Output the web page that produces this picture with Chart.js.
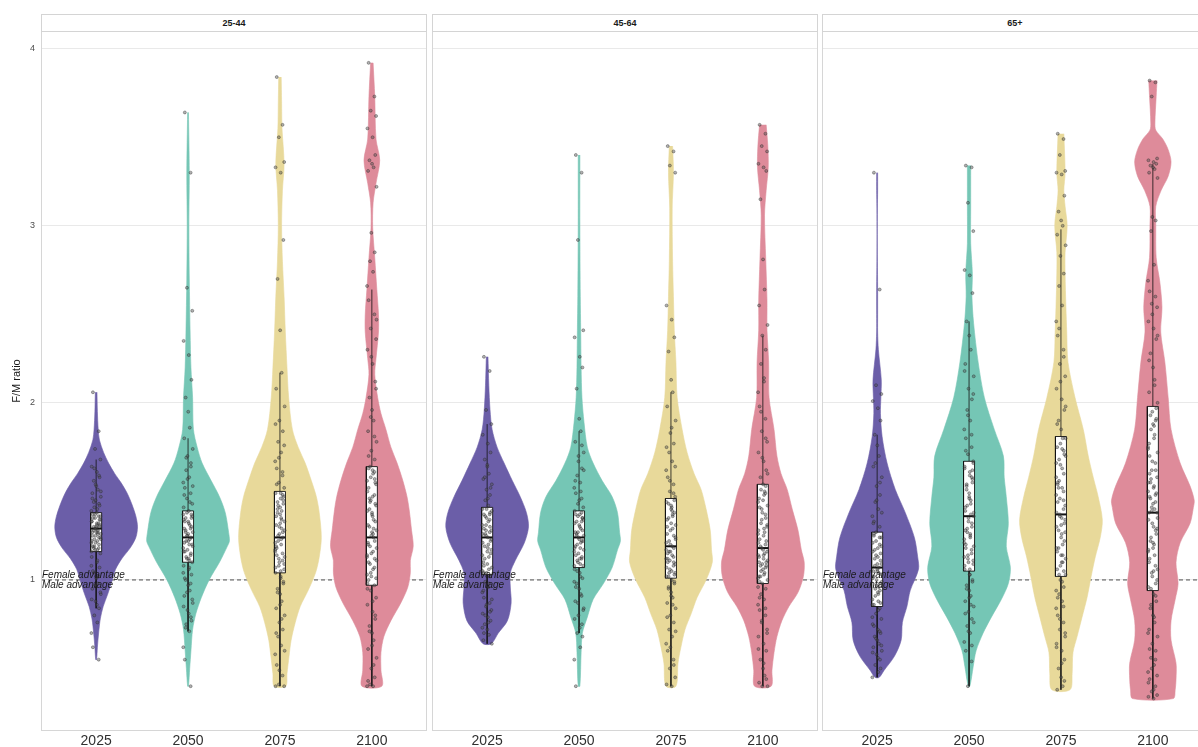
<!DOCTYPE html>
<html>
<head>
<meta charset="utf-8">
<title>F/M ratio by age group</title>
<script src="https://cdn.jsdelivr.net/npm/chart.js@4.4.1/dist/chart.umd.min.js"></script>
<style>
  html, body { margin: 0; padding: 0; background: #fff; }
  body { width: 1198px; height: 747px; overflow: hidden; position: relative;
         font-family: "Liberation Sans", Arial, Helvetica, sans-serif; }
  canvas { position: absolute; top: 0; }
  .strip { position: absolute; top: 14px; height: 18px; box-sizing: border-box;
           border: 1px solid #d4d4d4; background: #fff; color: #1a1a1a;
           font-weight: bold; font-size: 9px; line-height: 16px; text-align: center; }
  .note { position: absolute; font-style: italic; font-size: 10px; line-height: 10px;
          color: #1a1a1a; white-space: nowrap; pointer-events: none; }
</style>
</head>
<body>
<canvas id="p0" width="427" height="747" style="left:0px"></canvas>
<canvas id="p1" width="386" height="747" style="left:432px"></canvas>
<canvas id="p2" width="386" height="747" style="left:822px"></canvas>
<script>
// ---- categories and ticks ----
const YEARS = ['2025', '2050', '2075', '2100'];
const AGE_GROUPS = ['25-44', '45-64', '65+'];
const Y_TICKS = [1, 2, 3, 4];

// ---- violin outlines: F/M ratio levels and relative density (1 = widest) ----
// 25-44
const LV_2544_2025 = [2.06,1.95,1.85,1.79,1.72,1.66,1.60,1.55,1.49,1.43,1.36,1.30,1.24,1.18,1.12,1.06,1.00,0.92,0.85,0.78,0.70,0.62,0.55];
const DW_2544_2025 = [0.02,0.03,0.05,0.08,0.18,0.30,0.45,0.60,0.75,0.86,0.96,1.00,0.96,0.82,0.62,0.47,0.39,0.28,0.17,0.10,0.06,0.03,0.01];
const LV_2544_2050 = [3.64,3.30,3.00,2.70,2.40,2.20,2.03,1.85,1.75,1.66,1.56,1.47,1.38,1.27,1.22,1.19,1.10,1.00,0.90,0.81,0.72,0.60,0.50,0.40];
const DW_2544_2050 = [0.01,0.03,0.02,0.03,0.05,0.07,0.11,0.13,0.22,0.34,0.56,0.76,0.90,0.98,1.00,0.95,0.76,0.51,0.32,0.19,0.11,0.07,0.04,0.01];
const LV_2544_2075 = [3.84,3.70,3.55,3.35,3.20,3.00,2.80,2.60,2.40,2.20,2.03,1.85,1.75,1.66,1.56,1.47,1.38,1.24,1.13,1.04,0.94,0.85,0.76,0.66,0.57,0.47,0.40];
const DW_2544_2075 = [0.03,0.04,0.05,0.10,0.06,0.04,0.06,0.10,0.13,0.17,0.21,0.30,0.44,0.61,0.76,0.88,0.95,1.00,0.95,0.86,0.68,0.49,0.37,0.27,0.22,0.17,0.14];
const LV_2544_2100 = [3.92,3.73,3.49,3.37,3.24,3.13,2.99,2.82,2.64,2.50,2.40,2.25,2.16,2.03,1.94,1.85,1.75,1.66,1.56,1.47,1.40,1.28,1.19,1.11,1.04,0.96,0.87,0.77,0.68,0.59,0.49,0.40];
const DW_2544_2100 = [0.03,0.07,0.10,0.19,0.10,0.03,0.02,0.07,0.12,0.16,0.16,0.10,0.07,0.14,0.22,0.34,0.46,0.61,0.75,0.85,0.90,0.96,1.00,0.93,0.93,0.87,0.70,0.46,0.29,0.22,0.22,0.24];
// 45-64
const LV_4564_2025 = [2.26,2.10,1.96,1.85,1.75,1.66,1.56,1.47,1.38,1.30,1.21,1.11,1.04,0.96,0.87,0.77,0.70,0.64];
const DW_4564_2025 = [0.02,0.04,0.07,0.12,0.24,0.41,0.61,0.80,0.95,1.00,0.90,0.68,0.56,0.56,0.58,0.49,0.27,0.10];
const LV_4564_2050 = [3.40,3.00,2.60,2.41,2.20,2.03,1.89,1.75,1.66,1.56,1.47,1.38,1.27,1.22,1.17,1.07,0.98,0.89,0.79,0.70,0.59,0.40];
const DW_4564_2050 = [0.02,0.02,0.03,0.04,0.05,0.07,0.12,0.20,0.34,0.56,0.80,0.93,0.98,1.00,0.93,0.80,0.59,0.34,0.20,0.08,0.05,0.02];
const LV_4564_2075 = [3.45,3.30,3.10,2.80,2.60,2.41,2.23,2.03,1.85,1.72,1.60,1.51,1.40,1.28,1.17,1.10,1.00,0.90,0.81,0.72,0.62,0.53,0.40];
const DW_4564_2075 = [0.04,0.06,0.03,0.04,0.06,0.08,0.12,0.15,0.27,0.39,0.56,0.73,0.85,0.95,0.98,1.00,0.85,0.63,0.49,0.34,0.24,0.17,0.12];
const LV_4564_2100 = [3.57,3.45,3.33,3.20,3.06,2.81,2.58,2.41,2.23,2.03,1.85,1.70,1.60,1.51,1.40,1.28,1.17,1.10,1.02,0.93,0.85,0.77,0.68,0.59,0.49,0.40];
const DW_4564_2100 = [0.08,0.12,0.13,0.08,0.04,0.07,0.10,0.10,0.14,0.15,0.27,0.34,0.44,0.59,0.71,0.85,0.93,1.00,0.98,0.85,0.63,0.46,0.34,0.27,0.22,0.20];
// 65+
const LV_65_2025 = [3.30,3.20,3.10,2.95,2.80,2.65,2.50,2.40,2.30,2.13,2.03,1.94,1.81,1.66,1.51,1.38,1.24,1.13,1.06,0.94,0.85,0.76,0.66,0.57,0.49,0.45];
const DW_65_2025 = [0.012,0.012,0.006,0.003,0.006,0.012,0.012,0.012,0.03,0.10,0.09,0.08,0.12,0.24,0.44,0.68,0.90,0.98,1.00,0.80,0.72,0.61,0.58,0.42,0.17,0.05];
const LV_65_2050 = [3.34,3.10,2.90,2.73,2.60,2.45,2.23,2.03,1.85,1.70,1.58,1.47,1.32,1.19,1.07,0.98,0.89,0.79,0.70,0.60,0.51,0.40];
const DW_65_2050 = [0.04,0.04,0.04,0.08,0.07,0.11,0.22,0.37,0.61,0.83,0.85,0.90,0.95,0.90,1.00,0.95,0.78,0.54,0.34,0.17,0.10,0.02];
const LV_65_2075 = [3.52,3.30,3.20,3.11,3.00,2.85,2.73,2.54,2.40,2.23,2.03,1.85,1.70,1.58,1.47,1.34,1.24,1.13,1.02,0.90,0.79,0.68,0.59,0.47,0.38];
const DW_65_2075 = [0.07,0.10,0.07,0.10,0.15,0.10,0.10,0.12,0.14,0.17,0.34,0.54,0.66,0.78,0.90,1.00,0.95,0.83,0.73,0.63,0.51,0.39,0.29,0.27,0.22];
const LV_65_2100 = [3.82,3.73,3.58,3.54,3.49,3.43,3.36,3.28,3.20,3.11,3.00,2.82,2.68,2.54,2.40,2.23,2.03,1.85,1.66,1.53,1.45,1.41,1.32,1.21,1.10,0.98,0.89,0.77,0.66,0.53,0.44,0.38,0.33];
const DW_65_2100 = [0.10,0.08,0.05,0.07,0.24,0.37,0.44,0.37,0.20,0.07,0.07,0.08,0.17,0.22,0.19,0.29,0.37,0.44,0.66,0.90,1.00,0.98,0.90,0.66,0.56,0.61,0.54,0.44,0.44,0.56,0.56,0.54,0.49];

// ---- box plot summaries, one value per year ----
const Q1_2544  = [1.16, 1.10, 1.04, 0.97];
const MED_2544 = [1.29, 1.24, 1.24, 1.24];
const Q3_2544  = [1.38, 1.39, 1.50, 1.64];
const LO_2544  = [0.84, 0.71, 0.40, 0.40];
const HI_2544  = [1.68, 1.80, 2.17, 2.64];
const Q1_4564  = [1.03, 1.07, 1.01, 0.98];
const MED_4564 = [1.24, 1.24, 1.19, 1.18];
const Q3_4564  = [1.41, 1.39, 1.46, 1.54];
const LO_4564  = [0.64, 0.70, 0.40, 0.40];
const HI_4564  = [1.88, 1.84, 2.06, 2.38];
const Q1_65    = [0.85, 1.05, 1.02, 0.94];
const MED_65   = [1.07, 1.36, 1.37, 1.38];
const Q3_65    = [1.27, 1.67, 1.81, 1.98];
const LO_65    = [0.45, 0.40, 0.38, 0.33];
const HI_65    = [1.82, 2.46, 2.98, 3.35];

// ---- individual country values ----
const PT_2544_2025 = [2.06,1.84,1.74,1.68,1.64,1.61,1.58,1.56,1.53,1.51,1.49,1.47,1.45,1.43,1.41,1.40,1.39,1.37,1.36,1.35,1.34,1.33,1.32,1.31,1.30,1.29,1.28,1.27,1.26,1.25,1.24,1.23,1.22,1.21,1.19,1.18,1.17,1.15,1.13,1.10,1.07,1.04,1.01,0.98,0.95,0.92,0.88,0.84,0.80,0.76,0.70,0.62,0.55,
  1.37,1.36,1.33,1.31,1.30,1.28,1.27,1.26,1.25,1.23,1.21,1.20,1.19,1.17,1.16,1.35,1.32,1.29,1.24,1.22,1.38,1.34,1.18,1.30,1.27,1.46,1.50,1.54,1.59,1.63,1.11,1.08,1.05,1.02,0.97,0.93,0.89,0.86,1.42,1.44];
const PT_2544_2050 = [3.64,3.30,2.65,2.52,2.35,2.27,2.13,2.03,1.95,1.86,1.80,1.74,1.70,1.66,1.62,1.58,1.55,1.52,1.49,1.46,1.43,1.41,1.39,1.37,1.35,1.33,1.31,1.29,1.27,1.25,1.24,1.22,1.20,1.18,1.16,1.14,1.12,1.10,1.08,1.06,1.03,1.00,0.97,0.94,0.91,0.87,0.83,0.79,0.75,0.71,0.62,0.55,0.40,
  1.38,1.36,1.34,1.32,1.30,1.28,1.26,1.23,1.21,1.19,1.17,1.15,1.13,1.11,1.37,1.33,1.29,1.25,1.20,1.16,1.12,1.35,1.27,1.22,1.44,1.48,1.53,1.57,1.64,1.69,1.07,1.04,1.01,0.98,0.93,0.89,0.85,0.81,0.77,0.73];
const PT_2544_2075 = [3.84,3.57,3.50,3.36,3.33,3.30,2.92,2.70,2.41,2.17,2.08,1.98,1.90,1.84,1.78,1.72,1.67,1.63,1.59,1.55,1.52,1.49,1.46,1.43,1.40,1.37,1.34,1.31,1.28,1.26,1.24,1.22,1.20,1.17,1.14,1.11,1.08,1.06,1.04,1.01,0.98,0.95,0.92,0.88,0.84,0.80,0.76,0.72,0.68,0.63,0.58,0.52,0.46,0.41,0.40,0.40,
  1.49,1.47,1.44,1.41,1.39,1.36,1.33,1.30,1.27,1.25,1.23,1.21,1.18,1.15,1.12,1.09,1.07,1.05,1.45,1.38,1.32,1.29,1.19,1.13,1.10,1.48,1.42,1.35,1.16,1.54,1.61,1.69,1.76,1.88,1.02,0.99,0.93,0.86,0.78,0.70,0.60,0.49];
const PT_2544_2100 = [3.92,3.73,3.65,3.62,3.55,3.50,3.40,3.37,3.35,3.33,3.31,3.22,2.96,2.85,2.80,2.74,2.66,2.58,2.50,2.42,2.36,2.30,2.22,2.12,2.03,1.96,1.90,1.84,1.78,1.73,1.68,1.64,1.60,1.56,1.52,1.48,1.45,1.42,1.39,1.36,1.33,1.30,1.27,1.24,1.21,1.18,1.15,1.12,1.09,1.06,1.03,1.00,0.97,0.94,0.90,0.86,0.82,0.78,0.74,0.70,0.66,0.61,0.56,0.50,0.45,0.41,0.40,0.40,
  1.63,1.61,1.58,1.54,1.50,1.47,1.43,1.40,1.37,1.34,1.31,1.28,1.25,1.22,1.19,1.16,1.13,1.10,1.07,1.04,1.01,0.98,1.62,1.55,1.46,1.38,1.29,1.20,1.11,1.02,1.57,1.44,1.26,1.14,1.70,1.81,1.92,2.08,0.95,0.88,0.80,0.71,0.63,0.52,0.43,2.47,2.26];
const PT_4564_2025 = [2.26,2.18,1.96,1.88,1.82,1.77,1.72,1.68,1.64,1.60,1.57,1.54,1.51,1.48,1.45,1.42,1.40,1.37,1.34,1.31,1.28,1.26,1.24,1.22,1.19,1.16,1.13,1.10,1.07,1.04,1.02,0.99,0.96,0.93,0.90,0.87,0.85,0.83,0.81,0.79,0.77,0.75,0.72,0.69,0.66,0.64,
  1.40,1.38,1.36,1.33,1.31,1.29,1.27,1.25,1.23,1.21,1.18,1.15,1.12,1.09,1.06,1.04,1.39,1.35,1.30,1.26,1.20,1.14,1.08,1.37,1.28,1.17,1.05,1.46,1.52,1.58,1.65,0.98,0.94,0.89,0.86,0.82,0.80,0.76,0.73,0.70];
const PT_4564_2050 = [3.40,3.30,2.92,2.41,2.37,2.26,2.20,2.08,1.91,1.84,1.78,1.72,1.67,1.63,1.59,1.55,1.52,1.49,1.46,1.43,1.41,1.39,1.37,1.35,1.33,1.31,1.29,1.27,1.25,1.24,1.22,1.20,1.18,1.16,1.14,1.12,1.10,1.08,1.06,1.04,1.01,0.98,0.95,0.92,0.88,0.84,0.80,0.75,0.70,0.62,0.55,0.40,
  1.38,1.36,1.34,1.32,1.30,1.28,1.26,1.23,1.21,1.19,1.17,1.15,1.13,1.11,1.09,1.08,1.37,1.33,1.27,1.22,1.18,1.12,1.35,1.25,1.45,1.50,1.56,1.62,1.70,1.76,1.05,1.02,0.99,0.96,0.91,0.87,0.83,0.78,0.73,0.68];
const PT_4564_2075 = [3.45,3.42,3.34,3.30,2.55,2.47,2.37,2.29,2.13,2.06,1.98,1.90,1.83,1.77,1.72,1.67,1.62,1.58,1.54,1.50,1.47,1.44,1.41,1.38,1.35,1.32,1.29,1.26,1.23,1.20,1.18,1.16,1.14,1.12,1.10,1.08,1.06,1.04,1.02,1.00,0.98,0.96,0.93,0.90,0.87,0.84,0.80,0.76,0.72,0.68,0.64,0.60,0.55,0.50,0.45,0.41,0.40,
  1.45,1.43,1.40,1.37,1.34,1.31,1.28,1.25,1.22,1.19,1.17,1.15,1.13,1.11,1.09,1.07,1.05,1.03,1.02,1.42,1.36,1.30,1.24,1.16,1.10,1.04,1.39,1.21,1.12,1.49,1.56,1.64,1.75,1.86,0.99,0.95,0.91,0.86,0.79,0.71,0.62,0.52];
const PT_4564_2100 = [3.57,3.52,3.45,3.42,3.35,3.33,3.31,3.15,2.81,2.64,2.55,2.44,2.38,2.30,2.22,2.14,2.06,1.98,1.91,1.84,1.78,1.72,1.67,1.62,1.58,1.54,1.50,1.46,1.42,1.38,1.35,1.32,1.29,1.26,1.23,1.20,1.18,1.16,1.14,1.12,1.10,1.08,1.06,1.04,1.02,1.00,0.98,0.95,0.92,0.89,0.86,0.83,0.80,0.76,0.72,0.68,0.64,0.60,0.55,0.50,0.46,0.42,0.40,0.40,
  1.53,1.51,1.48,1.44,1.41,1.37,1.34,1.31,1.28,1.25,1.22,1.19,1.17,1.15,1.13,1.11,1.09,1.07,1.05,1.03,1.01,0.99,1.49,1.40,1.30,1.21,1.14,1.08,1.02,1.45,1.27,1.10,1.60,1.69,1.80,1.95,2.12,0.96,0.90,0.84,0.77,0.70,0.61,0.53,0.44];
const PT_65_2025 = [3.30,2.64,2.10,2.05,2.01,1.97,1.90,1.82,1.76,1.70,1.64,1.58,1.53,1.48,1.44,1.40,1.36,1.33,1.30,1.27,1.24,1.21,1.18,1.15,1.12,1.09,1.07,1.05,1.03,1.00,0.98,0.95,0.92,0.89,0.86,0.84,0.81,0.78,0.75,0.72,0.70,0.68,0.66,0.64,0.62,0.60,0.58,0.55,0.52,0.48,0.45,
  1.26,1.24,1.22,1.19,1.16,1.13,1.11,1.08,1.06,1.04,1.02,0.99,0.97,0.94,0.91,0.88,0.86,1.25,1.20,1.14,1.09,1.01,0.93,0.87,1.17,1.05,0.96,1.32,1.38,1.45,1.55,1.66,0.83,0.79,0.74,0.71,0.67,0.63,0.59,0.56,0.50];
const PT_65_2050 = [3.34,3.33,3.13,2.97,2.75,2.72,2.62,2.46,2.38,2.30,2.22,2.15,2.08,2.02,1.96,1.90,1.85,1.80,1.75,1.71,1.67,1.63,1.59,1.55,1.51,1.47,1.43,1.39,1.36,1.33,1.30,1.27,1.24,1.21,1.18,1.15,1.12,1.09,1.06,1.03,1.00,0.97,0.94,0.91,0.88,0.85,0.82,0.78,0.74,0.70,0.65,0.60,0.54,0.40,
  1.66,1.64,1.61,1.57,1.53,1.49,1.45,1.41,1.38,1.35,1.32,1.29,1.26,1.23,1.20,1.17,1.14,1.11,1.08,1.06,1.62,1.54,1.46,1.37,1.28,1.19,1.10,1.58,1.42,1.25,1.13,1.73,1.82,1.93,2.05,2.18,1.03,0.99,0.95,0.90,0.86,0.81,0.76,0.71,0.63];
const PT_65_2075 = [3.52,3.49,3.40,3.31,3.30,3.29,3.17,3.08,3.03,3.00,2.95,2.89,2.83,2.73,2.66,2.55,2.46,2.38,2.30,2.22,2.15,2.08,2.02,1.96,1.90,1.85,1.80,1.75,1.70,1.65,1.60,1.56,1.52,1.48,1.44,1.40,1.37,1.34,1.30,1.26,1.22,1.18,1.14,1.10,1.06,1.03,1.00,0.96,0.92,0.88,0.84,0.80,0.76,0.72,0.68,0.64,0.60,0.55,0.50,0.45,0.40,0.38,
  1.80,1.77,1.73,1.68,1.63,1.58,1.54,1.50,1.46,1.42,1.38,1.35,1.32,1.28,1.24,1.20,1.16,1.12,1.08,1.05,1.03,1.74,1.66,1.55,1.45,1.36,1.27,1.18,1.10,1.71,1.52,1.31,1.14,1.88,1.98,2.12,2.26,2.42,0.99,0.94,0.90,0.85,0.78,0.70,0.62,0.53,0.43];
const PT_65_2100 = [3.82,3.81,3.73,3.38,3.37,3.36,3.35,3.34,3.33,3.32,3.30,3.27,3.05,3.03,2.97,2.78,2.69,2.63,2.60,2.56,2.54,2.46,2.42,2.36,2.28,2.20,2.13,2.06,2.00,1.95,1.90,1.85,1.80,1.75,1.70,1.66,1.62,1.58,1.55,1.52,1.49,1.46,1.43,1.40,1.38,1.35,1.32,1.28,1.24,1.20,1.16,1.12,1.08,1.04,1.00,0.96,0.92,0.88,0.84,0.80,0.76,0.72,0.68,0.64,0.60,0.56,0.52,0.48,0.44,0.40,0.37,0.35,0.34,0.33,
  1.97,1.93,1.88,1.82,1.77,1.72,1.67,1.62,1.57,1.53,1.50,1.47,1.44,1.41,1.38,1.34,1.30,1.26,1.22,1.18,1.14,1.10,1.06,1.02,0.98,0.95,1.87,1.74,1.60,1.48,1.39,1.29,1.17,1.05,1.91,1.55,1.21,2.10,2.24,2.38,2.50,0.91,0.86,0.79,0.70,0.61,0.55,0.50,0.46,0.42,0.38];

// ---- styling ----
const FILLS = ['#6b5ea8', '#75c6b5', '#e8d99a', '#de8b9a'];
const X_MIN = -0.6, X_MAX = 3.6, Y_MIN = 0.147, Y_MAX = 4.10;
const VIOLIN_HALF = 0.45;   // half of the maximum violin width, in category units
const BOX_HALF = 0.06;      // half box width
const JITTER = [-0.035, 0.028, -0.012, 0.046, -0.048, 0.008, 0.037, -0.026, 0.002, 0.019, -0.041, 0.051, -0.006, 0.031, -0.02, 0.013, -0.052];
const FONT = '"Liberation Sans", Arial, Helvetica, sans-serif';

const PANELS = [
  { violins: [[LV_2544_2025, DW_2544_2025], [LV_2544_2050, DW_2544_2050], [LV_2544_2075, DW_2544_2075], [LV_2544_2100, DW_2544_2100]],
    points: [PT_2544_2025, PT_2544_2050, PT_2544_2075, PT_2544_2100],
    q1: Q1_2544, med: MED_2544, q3: Q3_2544, lo: LO_2544, hi: HI_2544 },
  { violins: [[LV_4564_2025, DW_4564_2025], [LV_4564_2050, DW_4564_2050], [LV_4564_2075, DW_4564_2075], [LV_4564_2100, DW_4564_2100]],
    points: [PT_4564_2025, PT_4564_2050, PT_4564_2075, PT_4564_2100],
    q1: Q1_4564, med: MED_4564, q3: Q3_4564, lo: LO_4564, hi: HI_4564 },
  { violins: [[LV_65_2025, DW_65_2025], [LV_65_2050, DW_65_2050], [LV_65_2075, DW_65_2075], [LV_65_2100, DW_65_2100]],
    points: [PT_65_2025, PT_65_2050, PT_65_2075, PT_65_2100],
    q1: Q1_65, med: MED_65, q3: Q3_65, lo: LO_65, hi: HI_65 }
];

// closed outline: right edge top-to-bottom, then left edge bottom-to-top
function outline(center, levels, dens) {
  const pts = [];
  for (let i = 0; i < levels.length; i++) pts.push({ x: center + dens[i] * VIOLIN_HALF, y: levels[i] });
  for (let i = levels.length - 1; i >= 0; i--) pts.push({ x: center - dens[i] * VIOLIN_HALF, y: levels[i] });
  return pts;
}

function line(data, color, width, order, extra) {
  return Object.assign({ data, showLine: true, borderColor: color, borderWidth: width,
    pointRadius: 0, pointHoverRadius: 0, fill: false, tension: 0, order }, extra || {});
}

// outlines each panel's plotting area
const panelFrame = {
  id: 'panelFrame',
  afterDraw(chart) {
    const { ctx, chartArea: a } = chart;
    ctx.save();
    ctx.strokeStyle = '#d6d6d6';
    ctx.lineWidth = 1;
    ctx.strokeRect(a.left + 0.5, a.top + 0.5, a.right - a.left - 1, a.bottom - a.top - 1);
    ctx.restore();
  }
};

function buildPanel(p) {
  const spec = PANELS[p];
  const datasets = [];
  datasets.push(line([{ x: X_MIN, y: 1 }, { x: X_MAX, y: 1 }], '#3c3c3c', 0.9, 60, { borderDash: [4, 3] }));
  YEARS.forEach((yr, i) => {
    const [lv, dw] = spec.violins[i];
    datasets.push(line(outline(i, lv, dw), FILLS[i], 0.6, 50, { fill: 'shape', backgroundColor: FILLS[i], tension: 0.3 }));
    datasets.push(line([{ x: i, y: spec.q3[i] }, { x: i, y: spec.hi[i] }], '#111', 0.8, 40));
    datasets.push(line([{ x: i, y: spec.q1[i] }, { x: i, y: spec.lo[i] }], '#111', 0.8, 40));
    datasets.push(line([
      { x: i - BOX_HALF, y: spec.q1[i] }, { x: i + BOX_HALF, y: spec.q1[i] },
      { x: i + BOX_HALF, y: spec.q3[i] }, { x: i - BOX_HALF, y: spec.q3[i] },
      { x: i - BOX_HALF, y: spec.q1[i] }], '#111', 0.9, 30, { fill: 'shape', backgroundColor: '#ffffff' }));
    datasets.push(line([{ x: i - BOX_HALF, y: spec.med[i] }, { x: i + BOX_HALF, y: spec.med[i] }], '#111', 2, 20));
    datasets.push({
      data: spec.points[i].map((v, k) => ({ x: i + JITTER[k % JITTER.length], y: v })),
      showLine: false, pointRadius: 1.5, pointHoverRadius: 1.5, pointBorderWidth: 0.6,
      pointBackgroundColor: 'rgba(85,85,85,0.45)', pointBorderColor: 'rgba(35,35,35,0.6)', order: 10
    });
  });

  const first = p === 0;
  const chart = new Chart(document.getElementById('p' + p), {
    type: 'scatter',
    data: { datasets },
    plugins: [panelFrame],
    options: {
      responsive: false, animation: false, devicePixelRatio: 1,
      events: [],
      layout: { autoPadding: false, padding: { top: 31, right: 0, left: 0, bottom: 0 } },
      plugins: { legend: { display: false }, tooltip: { enabled: false } },
      scales: {
        x: {
          type: 'linear', min: X_MIN, max: X_MAX,
          afterBuildTicks: s => { s.ticks = YEARS.map((_, i) => ({ value: i })); },
          afterFit: s => { s.height = 16; },
          grid: { display: false, drawTicks: false },
          border: { display: false },
          ticks: { autoSkip: false, maxRotation: 0, padding: 2, color: '#303030',
                   font: { family: FONT, size: 14 }, callback: v => YEARS[v] }
        },
        y: {
          type: 'linear', min: Y_MIN, max: Y_MAX,
          afterBuildTicks: s => { s.ticks = Y_TICKS.map(v => ({ value: v })); },
          afterFit: s => { s.width = first ? 41 : 0; },
          grid: { color: '#e9e9e9', lineWidth: 1, drawTicks: false },
          border: { display: false },
          ticks: { display: first, padding: 6, color: '#4d4d4d', font: { family: FONT, size: 9 } },
          title: { display: first, text: 'F/M ratio', color: '#1a1a1a',
                   font: { family: FONT, size: 11 }, padding: { top: 10, bottom: 0 } }
        }
      }
    }
  });

  // facet strip and reference-line captions
  const canvas = chart.canvas;
  const offset = parseFloat(canvas.style.left);
  const a = chart.chartArea;
  const strip = document.createElement('div');
  strip.className = 'strip';
  strip.style.left = (offset + a.left) + 'px';
  strip.style.width = (a.right - a.left) + 'px';
  strip.textContent = AGE_GROUPS[p];
  document.body.appendChild(strip);

  const y1 = chart.scales.y.getPixelForValue(1);
  const up = document.createElement('div');
  up.className = 'note';
  up.style.left = (offset + a.left + 1) + 'px';
  up.style.top = (y1 - 10) + 'px';
  up.textContent = 'Female advantage';
  document.body.appendChild(up);
  const down = document.createElement('div');
  down.className = 'note';
  down.style.left = (offset + a.left + 1) + 'px';
  down.style.top = (y1 + 0) + 'px';
  down.textContent = 'Male advantage';
  document.body.appendChild(down);
}

[0, 1, 2].forEach(buildPanel);
</script>
</body>
</html>
